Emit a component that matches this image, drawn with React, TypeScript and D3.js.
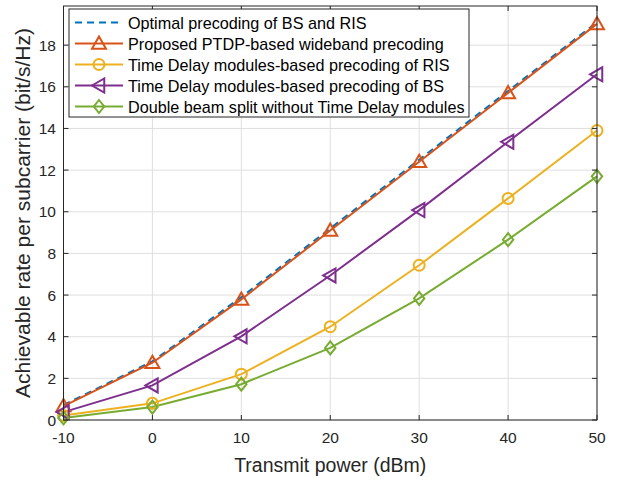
import React from "react";
import * as d3 from "d3";

const powers = [-10, 0, 10, 20, 30, 40, 50];
const optimal = [0.72, 2.82, 5.9, 9.2, 12.5, 15.8, 19.1];
const proposed = [0.67, 2.75, 5.79, 9.1, 12.4, 15.7, 19.02];
const risTd = [0.22, 0.8, 2.2, 4.48, 7.43, 10.64, 13.9];
const bsTd = [0.38, 1.66, 4.02, 6.94, 10.08, 13.36, 16.6];
const doubleSplit = [0.1, 0.62, 1.72, 3.46, 5.84, 8.66, 11.7];

const xTicks = [-10, 0, 10, 20, 30, 40, 50];
const yTicks = [0, 2, 4, 6, 8, 10, 12, 14, 16, 18];

const seriesNames = [
  "Optimal precoding of BS and RIS",
  "Proposed PTDP-based wideband precoding",
  "Time Delay modules-based precoding of RIS",
  "Time Delay modules-based precoding of BS",
  "Double beam split without Time Delay modules",
];

type Marker = "none" | "triangle" | "circle" | "left" | "diamond";
const series: { name: string; values: number[]; color: string; marker: Marker; dash?: string }[] = [
  { name: seriesNames[0], values: optimal, color: "#0072BD", marker: "none", dash: "7,5" },
  { name: seriesNames[1], values: proposed, color: "#D95319", marker: "triangle" },
  { name: seriesNames[2], values: risTd, color: "#EDB120", marker: "circle" },
  { name: seriesNames[3], values: bsTd, color: "#7E2F8E", marker: "left" },
  { name: seriesNames[4], values: doubleSplit, color: "#77AC30", marker: "diamond" },
];

const W = 628;
const H = 480;
const L = 63.5;
const R = 597;
const T = 6;
const B = 420;
const FONT = "'Liberation Sans', Arial, Helvetica, sans-serif";
const AX = "#262626";

function MarkerShape({ type, x, y, color }: { type: Marker; x: number; y: number; color: string }) {
  const sw = 2;
  if (type === "circle") return <circle cx={x} cy={y} r={5.5} fill="none" stroke={color} strokeWidth={sw} />;
  if (type === "triangle") {
    const s = 7;
    return (
      <path
        d={`M${x},${y - s} L${x + s},${y + s * 0.75} L${x - s},${y + s * 0.75} Z`}
        fill="none"
        stroke={color}
        strokeWidth={sw}
      />
    );
  }
  if (type === "left") {
    const s = 7;
    return (
      <path
        d={`M${x - s},${y} L${x + s * 0.75},${y - s} L${x + s * 0.75},${y + s} Z`}
        fill="none"
        stroke={color}
        strokeWidth={sw}
      />
    );
  }
  if (type === "diamond") {
    const s = 6.5;
    return (
      <path
        d={`M${x},${y - s} L${x + s * 0.8},${y} L${x},${y + s} L${x - s * 0.8},${y} Z`}
        fill="none"
        stroke={color}
        strokeWidth={sw}
      />
    );
  }
  return null;
}

export default function App() {
  const x = d3.scaleLinear().domain([-10, 50]).range([L, R]);
  const y = d3.scaleLinear().domain([0, 19.88]).range([B, T]);
  const line = d3
    .line<number>()
    .x((_, i) => x(powers[i]))
    .y((v) => y(v));

  const legX = 69;
  const legY = 9;
  const legW = 400;
  const legH = 108;
  const rowH = 21;

  return (
    <svg
      width={W}
      height={H}
      style={{ position: "absolute", left: 0, top: 0, background: "#fff" }}
      fontFamily={FONT}
    >
      <rect x={0} y={0} width={W} height={H} fill="#fff" />
      {xTicks.map((t) => (
        <line key={"gx" + t} x1={x(t)} x2={x(t)} y1={T} y2={B} stroke="#dfdfdf" strokeWidth={1} />
      ))}
      {yTicks.map((t) => (
        <line key={"gy" + t} x1={L} x2={R} y1={y(t)} y2={y(t)} stroke="#dfdfdf" strokeWidth={1} />
      ))}
      {series.map((s) => (
        <path
          key={s.name}
          d={line(s.values) || ""}
          fill="none"
          stroke={s.color}
          strokeWidth={2}
          strokeDasharray={s.dash}
        />
      ))}
      {series.map((s) =>
        s.values.map((v, i) => (
          <MarkerShape key={s.name + i} type={s.marker} x={x(powers[i])} y={y(v)} color={s.color} />
        ))
      )}
      <rect x={L} y={T} width={R - L} height={B - T} fill="none" stroke={AX} strokeWidth={1} />
      {xTicks.map((t) => (
        <g key={"tx" + t}>
          <line x1={x(t)} x2={x(t)} y1={B} y2={B - 5} stroke={AX} />
          <line x1={x(t)} x2={x(t)} y1={T} y2={T + 5} stroke={AX} />
          <text x={x(t)} y={443} textAnchor="middle" fontSize={15.5} fill={AX}>
            {t}
          </text>
        </g>
      ))}
      {yTicks.map((t) => (
        <g key={"ty" + t}>
          <line x1={L} x2={L + 5} y1={y(t)} y2={y(t)} stroke={AX} />
          <line x1={R} x2={R - 5} y1={y(t)} y2={y(t)} stroke={AX} />
          <text x={56} y={y(t) + 5.5} textAnchor="end" fontSize={15.5} fill={AX}>
            {t}
          </text>
        </g>
      ))}
      <text x={(L + R) / 2} y={471.5} textAnchor="middle" fontSize={19.5} fill={AX}>
        Transmit power (dBm)
      </text>
      <text
        transform={`translate(30,${(T + B) / 2}) rotate(-90)`}
        textAnchor="middle"
        fontSize={21}
        fill={AX}
      >
        Achievable rate per subcarrier (bit/s/Hz)
      </text>
      <rect x={legX} y={legY} width={legW} height={legH} fill="#fff" stroke={AX} strokeWidth={1} />
      {series.map((s, i) => {
        const cy = 22.5 + i * rowH;
        return (
          <g key={"leg" + s.name}>
            <line
              x1={75}
              x2={123}
              y1={cy}
              y2={cy}
              stroke={s.color}
              strokeWidth={2}
              strokeDasharray={s.dash}
            />
            <MarkerShape type={s.marker} x={99} y={cy} color={s.color} />
            <text x={128} y={cy + 6} fontSize={16.2} fill="#000">
              {s.name}
            </text>
          </g>
        );
      })}
    </svg>
  );
}
